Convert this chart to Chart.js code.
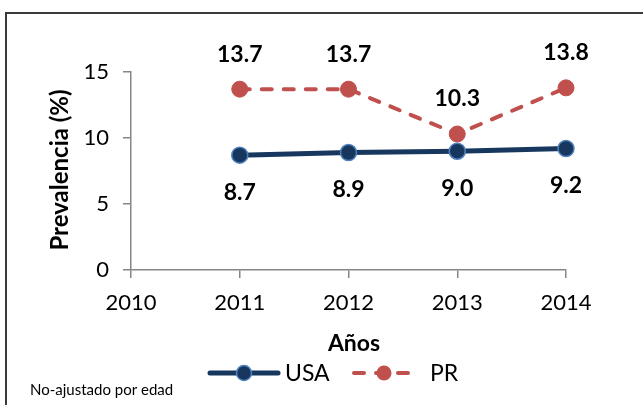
<!DOCTYPE html>
<html>
<head>
<meta charset="utf-8">
<script src="https://cdn.jsdelivr.net/npm/chart.js@4/dist/chart.umd.min.js"></script>
<style>
  html, body { margin: 0; padding: 0; background: #fff; }
  #wrap { width: 643px; height: 405px; position: relative; }
</style>
</head>
<body>
<div id="wrap"><canvas id="graf" width="643" height="405"></canvas></div>
<script>
// datos
const years = [2011, 2012, 2013, 2014];
const usaValues = [8.7, 8.9, 9.0, 9.2];
const prValues = [13.7, 13.7, 10.3, 13.8];
const seriesNames = ['USA', 'PR'];
const xTitle = 'Años';
const yTitle = 'Prevalencia (%)';
const footNote = 'No-ajustado por edad';

const FONT = 'Lato, "Liberation Sans", sans-serif';
const navy = '#17375E';
const navyEdge = '#4F81BD';
const red = '#C0504D';

function toPoints(vals) {
    return years.map((x, i) => ({ x: x, y: vals[i] }));
}

// etiquetas de valor, títulos, leyenda y marco
const extras = {
    id: 'extras',
    afterDatasetsDraw(chart) {
        const c = chart.ctx;
        c.save();
        c.font = 'bold 23px ' + FONT;
        c.fillStyle = '#000';
        c.textAlign = 'center';
        c.textBaseline = 'middle';
        chart.data.datasets.forEach((ds, di) => {
            const meta = chart.getDatasetMeta(di);
            meta.data.forEach((pt, i) => {
                const off = di === 0 ? 37 : -35;
                c.fillText(ds.data[i].y.toFixed(1), pt.x, pt.y + off);
            });
        });
        c.restore();
    },
    afterDraw(chart) {
        const c = chart.ctx;
        c.save();
        // marco
        c.strokeStyle = '#3a3a3a';
        c.lineWidth = 2;
        c.strokeRect(6, 13, 700, 500);

        // títulos de ejes
        c.fillStyle = '#000';
        c.font = 'bold 23px ' + FONT;
        c.textAlign = 'center';
        c.textBaseline = 'middle';
        c.fillText(xTitle, 354, 344);
        c.save();
        c.translate(60, 170);
        c.rotate(-Math.PI / 2);
        c.font = 'bold 24px ' + FONT;
        c.fillText(yTitle, 0, 0);
        c.restore();

        // leyenda
        const ly = 373;
        c.lineCap = 'round';
        c.strokeStyle = navy;
        c.lineWidth = 5;
        c.beginPath(); c.moveTo(210, ly); c.lineTo(278, ly); c.stroke();
        c.fillStyle = navy;
        c.strokeStyle = navyEdge;
        c.lineWidth = 1.5;
        c.beginPath(); c.arc(244, ly, 7.5, 0, Math.PI * 2); c.fill(); c.stroke();

        c.strokeStyle = red;
        c.lineWidth = 4;
        c.setLineDash([10, 12]);
        c.beginPath(); c.moveTo(354, ly); c.lineTo(414, ly); c.stroke();
        c.setLineDash([]);
        c.fillStyle = red;
        c.beginPath(); c.arc(384, ly, 7.5, 0, Math.PI * 2); c.fill();

        c.fillStyle = '#000';
        c.font = '23px ' + FONT;
        c.textAlign = 'left';
        c.fillText(seriesNames[0], 285, ly + 1);
        c.fillText(seriesNames[1], 430, ly + 1);

        // nota
        c.font = '15px ' + FONT;
        c.fillText(footNote, 30, 390);
        c.restore();
    }
};

const data = {
    datasets: [{
        label: seriesNames[0],
        data: toPoints(usaValues),
        borderColor: navy,
        backgroundColor: navy,
        borderWidth: 5,
        pointRadius: 8,
        pointBackgroundColor: navy,
        pointBorderColor: navyEdge,
        pointBorderWidth: 1.5,
        clip: false,
        tension: 0
    }, {
        label: seriesNames[1],
        data: toPoints(prValues),
        borderColor: red,
        backgroundColor: red,
        borderWidth: 4,
        borderDash: [10, 12],
        borderCapStyle: 'round',
        pointRadius: 8,
        pointBackgroundColor: red,
        pointBorderColor: red,
        pointBorderWidth: 1,
        clip: false,
        tension: 0
    }]
};

const options = {
    responsive: false,
    animation: false,
    layout: { padding: { left: 0, right: 77, top: 72, bottom: 0 } },
    scales: {
        x: {
            type: 'linear',
            min: 2010,
            max: 2014,
            ticks: {
                stepSize: 1,
                color: '#000',
                font: { family: FONT, size: 22 },
                padding: 12,
                callback: v => String(v)
            },
            grid: { drawOnChartArea: false, tickLength: 8, color: '#868686', lineWidth: 1.5 },
            border: { color: '#868686', width: 1.5 },
            afterFit(s) { s.height = 135; }
        },
        y: {
            min: 0,
            max: 15,
            ticks: {
                stepSize: 5,
                color: '#000',
                font: { family: FONT, size: 22 },
                padding: 14
            },
            grid: { drawOnChartArea: false, tickLength: 8, color: '#868686', lineWidth: 1.5 },
            border: { color: '#868686', width: 1.5 },
            afterFit(s) { s.width = 131; }
        }
    },
    plugins: {
        legend: { display: false },
        tooltip: { enabled: false }
    }
};

new Chart(document.getElementById('graf').getContext('2d'), {
    type: 'line',
    data: data,
    options: options,
    plugins: [extras]
});
</script>
</body>
</html>
